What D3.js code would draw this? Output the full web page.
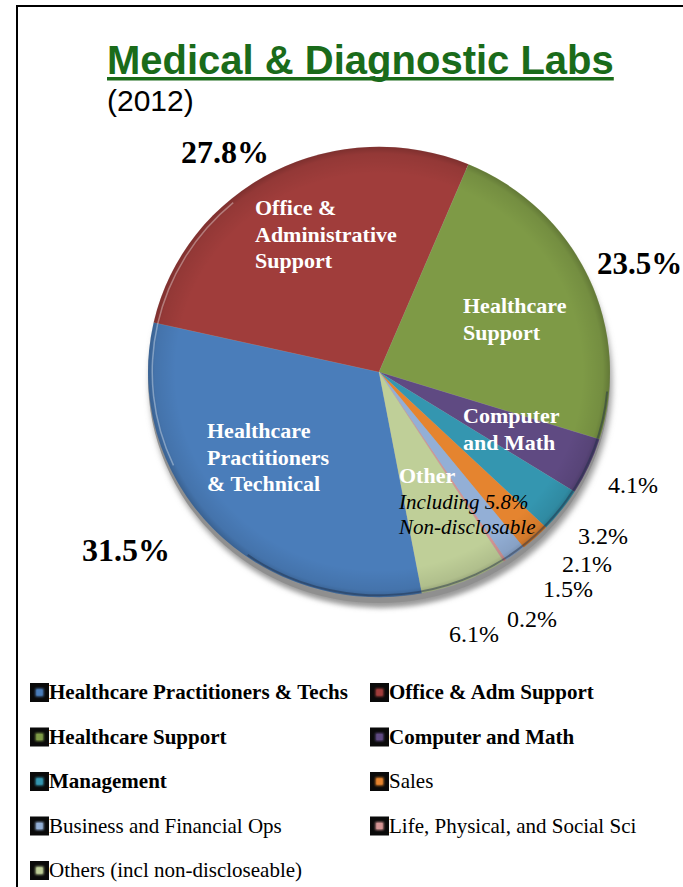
<!DOCTYPE html>
<html><head><meta charset="utf-8">
<script src="https://cdn.jsdelivr.net/npm/d3@7/dist/d3.min.js"></script>
<style>html,body{margin:0;padding:0;background:#fff;}svg{display:block;}</style>
</head><body>
<script>
// ---- data ----
const categories = ["Healthcare Practitioners & Techs","Office & Adm Support","Healthcare Support","Computer and Math","Management","Sales","Business and Financial Ops","Life, Physical, and Social Sci","Others (incl non-discloseable)"];
const shares = [31.5, 27.8, 23.5, 4.1, 3.2, 2.1, 1.5, 0.2, 6.1];
const shareLabels = ["31.5%","27.8%","23.5%","4.1%","3.2%","2.1%","1.5%","0.2%","6.1%"];
const colors = ["#4a7dba","#a03d3b","#7e9a46","#5f4a82","#3496b0","#e5842f","#93afd6","#d49494","#bfcf98"];
const legendBold = [true,true,true,true,true,false,false,false,false];
const sliceText = [
  ["Healthcare","Practitioners","& Technical"],
  ["Office &","Administrative","Support"],
  ["Healthcare","Support"],
  ["Computer","and Math"],
  [],[],[],[],
  ["Other"]
];
const otherNote = ["Including 5.8%","Non-disclosable"];
const titleText = "Medical & Diagnostic Labs";
const subtitleText = "(2012)";

// ---- layout ----
const W = 683, H = 887;
const cx = 379, cy = 372, R = 231, yScale = 0.975;
const startDeg = 169.3;

const svg = d3.select("body").append("svg").attr("width", W).attr("height", H);
const defs = svg.append("defs");
defs.append("filter").attr("id","blur3").attr("x","-20%").attr("y","-20%").attr("width","140%").attr("height","140%")
  .append("feGaussianBlur").attr("stdDeviation",3);
defs.append("filter").attr("id","blur1").attr("x","-50%").attr("y","-50%").attr("width","200%").attr("height","200%")
  .append("feGaussianBlur").attr("stdDeviation",1.2);
const rg = defs.append("radialGradient").attr("id","rim").attr("cx","50%").attr("cy","50%").attr("r","50%");
rg.append("stop").attr("offset","0%").attr("stop-color","#000").attr("stop-opacity",0);
rg.append("stop").attr("offset","88%").attr("stop-color","#000").attr("stop-opacity",0);
rg.append("stop").attr("offset","97%").attr("stop-color","#000").attr("stop-opacity",0.08);
rg.append("stop").attr("offset","100%").attr("stop-color","#000").attr("stop-opacity",0.22);

// frame
svg.append("line").attr("x1",17).attr("y1",6).attr("x2",W).attr("y2",6).attr("stroke","#000").attr("stroke-width",2);
svg.append("line").attr("x1",17).attr("y1",5).attr("x2",17).attr("y2",H).attr("stroke","#000").attr("stroke-width",2);

// title
const title = svg.append("text").attr("x",107).attr("y",74)
  .attr("font-family","'Liberation Sans', Arial, sans-serif").attr("font-weight","bold")
  .attr("font-size",40).attr("fill","#1a6b1a").text(titleText);
const tw = title.node().getComputedTextLength();
svg.append("rect").attr("x",107).attr("y",77).attr("width",tw).attr("height",3.5).attr("fill","#1a6b1a");
svg.append("text").attr("x",107).attr("y",111)
  .attr("font-family","'Liberation Sans', Arial, sans-serif").attr("font-size",30).attr("fill","#000").text(subtitleText);

// pie
const pie = d3.pie().sort(null).value(d => d)
  .startAngle(startDeg*Math.PI/180).endAngle(startDeg*Math.PI/180 + 2*Math.PI);
const arcs = pie(shares);
const arc = d3.arc().innerRadius(0).outerRadius(R);

const pg = svg.append("g").attr("transform",`translate(${cx},${cy}) scale(1,${yScale})`);
// shadow / thickness
pg.append("ellipse").attr("cx",2).attr("cy",11).attr("rx",R).attr("ry",R)
  .attr("fill","#9a9a9a").attr("filter","url(#blur3)");
pg.append("circle").attr("cx",0).attr("cy",6).attr("r",R).attr("fill","#8f8f8f");
pg.selectAll("path.slice").data(arcs).join("path").attr("class","slice")
  .attr("d",arc).attr("fill",(d,i)=>colors[i])
  .attr("stroke","rgba(255,255,255,0.1)").attr("stroke-width",0.6);
pg.append("circle").attr("r",R).attr("fill","url(#rim)");
// bottom dark rim line
const rimArc = d3.arc().innerRadius(R-3).outerRadius(R-1)
  .startAngle(95*Math.PI/180).endAngle(215*Math.PI/180);
pg.append("path").attr("d",rimArc).attr("fill","#1e2e48").attr("opacity",0.45);
// left highlight
const hiArc = d3.arc().innerRadius(R-5).outerRadius(R-3.5)
  .startAngle(-115*Math.PI/180).endAngle(-40*Math.PI/180);
pg.append("path").attr("d",hiArc).attr("fill","#fff").attr("opacity",0.35);

// in-slice labels
const serif = "'Liberation Serif', 'Times New Roman', serif";
const inPos = [[207,438],[255,215],[463,313],[463,423],null,null,null,null,[399,483]];
sliceText.forEach((lines,i)=>{
  if(!inPos[i]) return;
  const t = svg.append("text").attr("x",inPos[i][0]).attr("y",inPos[i][1])
    .attr("font-family",serif).attr("font-weight","bold").attr("font-size",22).attr("fill","#fff");
  lines.forEach((s,k)=>t.append("tspan").attr("x",inPos[i][0]).attr("y",inPos[i][1]+k*26.7).text(s));
});
otherNote.forEach((s,k)=>svg.append("text").attr("x",399).attr("y",509+k*24.5)
  .attr("font-family",serif).attr("font-style","italic").attr("font-size",21).attr("fill","#000").text(s));

// percentage labels
const pctPos = [[82,561,32],[181,163,32],[597,274,31],[608,493,0],[578,544,0],[562,572,0],[543,597,0],[507,627,0],[449,642,0]];
shareLabels.forEach((s,i)=>{
  const p = pctPos[i];
  svg.append("text").attr("x",p[0]).attr("y",p[1]).attr("font-family",serif)
    .attr("font-weight",p[2]?"bold":"normal").attr("font-size",p[2]?p[2]:24).attr("fill","#000").text(s);
});

// legend
const legX = [30,370], legY0 = 699, legDy = 44.5;
categories.forEach((c,i)=>{
  const col = i%2, row = Math.floor(i/2);
  const x = legX[col], y = legY0 + row*legDy;
  const g = svg.append("g");
  g.append("rect").attr("x",x).attr("y",y-16).attr("width",19).attr("height",19).attr("fill","#0a0a0a");
  g.append("rect").attr("x",x+5.5).attr("y",y-10.5).attr("width",8).attr("height",8).attr("fill",colors[i]).attr("filter","url(#blur1)");
  g.append("rect").attr("x",x+6.5).attr("y",y-9.5).attr("width",6).attr("height",6).attr("fill",colors[i]);
  g.append("text").attr("x",x+19).attr("y",y).attr("font-family",serif)
    .attr("font-weight",legendBold[i]?"bold":"normal").attr("font-size",21).attr("fill","#000").text(c);
});
</script>
</body></html>
